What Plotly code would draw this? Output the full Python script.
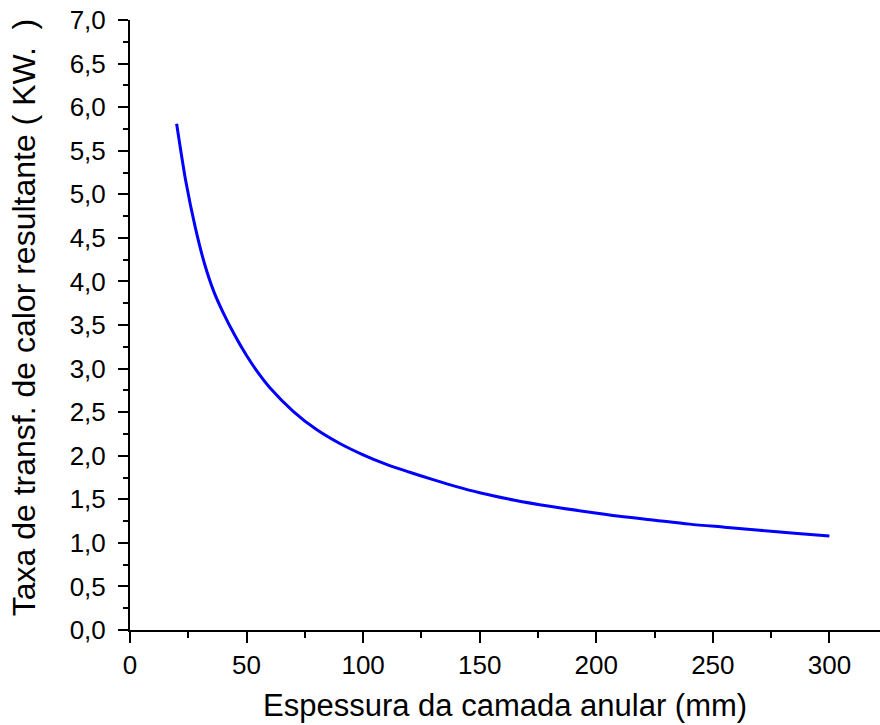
import plotly.graph_objects as go

# Espessura da camada anular (mm) e taxa de transferência de calor resultante
espessura = [20, 24, 28, 32, 36, 40, 45, 50, 55, 60, 70, 80, 90, 100, 110, 120,
             130, 140, 150, 165, 180, 195, 210, 225, 240, 255, 270, 285, 300]
taxa_calor = [5.81, 5.14, 4.62, 4.20, 3.88, 3.64, 3.38, 3.15, 2.95, 2.78, 2.51,
              2.30, 2.14, 2.01, 1.90, 1.81, 1.725, 1.645, 1.575, 1.49, 1.42, 1.36,
              1.305, 1.26, 1.215, 1.18, 1.145, 1.11, 1.08]

x_ticks = [0, 50, 100, 150, 200, 250, 300]
y_ticks = [0.0, 0.5, 1.0, 1.5, 2.0, 2.5, 3.0, 3.5, 4.0, 4.5, 5.0, 5.5, 6.0, 6.5, 7.0]

x_title = "Espessura da camada anular (mm)"
y_title = "Taxa de transf. de calor resultante ( KW.  )"

FONT = "Liberation Sans, Arial, sans-serif"

fig = go.Figure()
fig.add_trace(go.Scatter(
    x=espessura, y=taxa_calor, mode="lines",
    line=dict(color="#0000FF", width=3, shape="spline", smoothing=0.8),
    showlegend=False,
))

axis_common = dict(
    showline=True, linecolor="black", linewidth=2,
    ticks="outside", tickcolor="black", tickwidth=2,
    showgrid=False, zeroline=False, mirror=False,
    tickfont=dict(family=FONT, size=26, color="black"),
)

fig.update_xaxes(
    range=[0, 321.7], tickvals=x_ticks, tickformat="d", ticklen=11,
    minor=dict(dtick=25, tick0=0, ticks="outside", ticklen=6,
               tickwidth=2, tickcolor="black", showgrid=False),
    **axis_common,
)
fig.update_yaxes(
    range=[0, 7], tickvals=y_ticks, tickformat=".1f", ticklen=10,
    ticklabelstandoff=7,
    minor=dict(dtick=0.25, tick0=0, ticks="outside", ticklen=5,
               tickwidth=2, tickcolor="black", showgrid=False),
    **axis_common,
)

fig.add_annotation(
    text=x_title, xref="paper", yref="paper", x=0.5, y=-0.124,
    xanchor="center", yanchor="middle", showarrow=False,
    font=dict(family=FONT, size=31, color="black"),
)
fig.add_annotation(
    text=y_title, xref="paper", yref="paper", x=-0.141, y=0.513,
    xanchor="center", yanchor="middle", textangle=-90, showarrow=False,
    font=dict(family=FONT, size=32, color="black"),
)

fig.update_layout(
    width=880, height=725,
    margin=dict(l=130, r=0, t=20, b=95),
    plot_bgcolor="white", paper_bgcolor="white",
    separators=",.",
    font=dict(family=FONT, color="black"),
)

fig.write_html("out.html")
